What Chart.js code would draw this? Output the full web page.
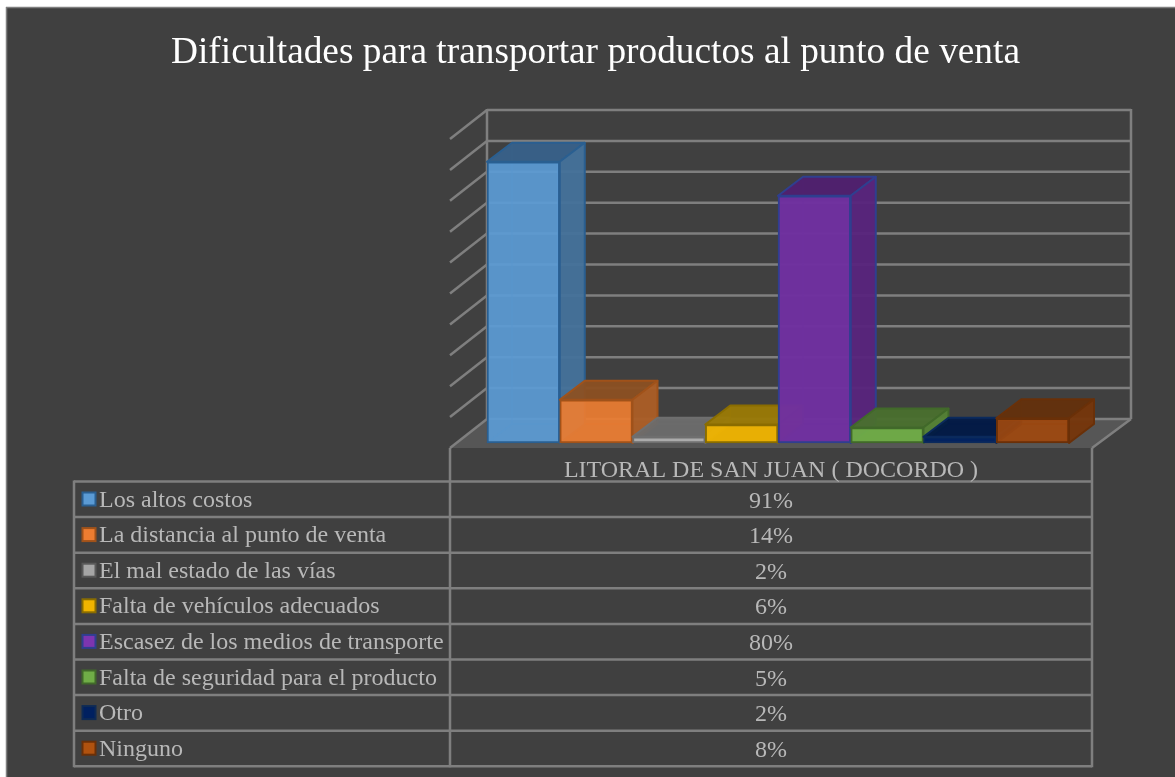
<!DOCTYPE html>
<html lang="es">
<head>
<meta charset="utf-8">
<title>Dificultades para transportar productos al punto de venta</title>
<script src="https://cdn.jsdelivr.net/npm/chart.js@4"></script>
<style>
html,body{margin:0;padding:0;background:#fff;overflow:hidden}
canvas{display:block}
</style>
</head>
<body>
<canvas id="c" width="1175" height="777"></canvas>
<script>
const chartTitle = "Dificultades para transportar productos al punto de venta";
const categories = ["LITORAL DE SAN JUAN ( DOCORDO )"];
const seriesNames = ["Los altos costos","La distancia al punto de venta","El mal estado de las vías","Falta de vehículos adecuados","Escasez de los medios de transporte","Falta de seguridad para el producto","Otro","Ninguno"];
const seriesValues = [91,14,2,6,80,5,2,8];
const gridValues = [0,10,20,30,40,50,60,70,80,90,100];

const frontColors = ["rgba(91,155,213,.92)","rgba(237,125,49,.92)","rgba(175,175,175,.95)","rgba(240,180,0,.95)","rgba(112,48,160,.97)","rgba(112,173,71,.95)","rgba(0,32,96,.95)","rgba(158,72,14,.92)"];
const sideColors  = ["rgba(68,114,155,.95)","rgba(172,94,38,.95)","rgba(120,120,120,.95)","rgba(150,115,0,.95)","rgba(88,36,125,.95)","rgba(84,130,53,.95)","rgba(0,24,72,.95)","rgba(118,54,11,.95)"];
const topColors   = ["rgba(56,97,138,.95)","rgba(140,80,34,.95)","rgba(107,107,107,.95)","rgba(155,122,5,.95)","rgba(80,32,112,.95)","rgba(74,112,46,.95)","rgba(0,24,70,.95)","rgba(100,48,12,.95)"];
const edgeColors  = ["#2a5f91","#a0521a","#6f6f6f","#8a6d00","#2f3f8f","#41692a","#0b2a5c","#6a3008"];
const swatchFill  = ["#5b9bd5","#ed7d31","#a5a5a5","#f0b400","#7d35b0","#70ad47","#002060","#b0520f"];
const swatchEdge  = ["#2a5f91","#a0521a","#595959","#8a6d00","#2f3f8f","#41692a","#0e2a55","#6a3008"];

const BG="#404040", LINE="#7f7f7f", TXT="#b8b8b8", SERIF='"Liberation Serif","Times New Roman",serif';
const BAR_DX=25, BAR_DY=19, WALL_BACK_DY=24, WALL_DX=37, WALL_DY=29, WALL_RIGHT=62, RULE=2.5;

function poly(ctx,pts,fill,stroke,w){
  ctx.beginPath();pts.forEach((p,i)=>i?ctx.lineTo(p[0],p[1]):ctx.moveTo(p[0],p[1]));ctx.closePath();
  if(fill){ctx.fillStyle=fill;ctx.fill();}
  if(stroke){ctx.strokeStyle=stroke;ctx.lineWidth=w||1.5;ctx.lineJoin="round";ctx.stroke();}
}
function seg(ctx,x1,y1,x2,y2,c,w){ctx.beginPath();ctx.moveTo(x1,y1);ctx.lineTo(x2,y2);ctx.strokeStyle=c;ctx.lineWidth=w||2;ctx.stroke();}

const frame3d={
  id:"frame3d",
  beforeDraw(chart){
    const ctx=chart.ctx;
    ctx.save();
    ctx.fillStyle="#fff";ctx.fillRect(0,0,chart.width,chart.height);
    ctx.fillStyle=BG;ctx.fillRect(6,7,chart.width-6,chart.height-7);
    seg(ctx,6,7.5,chart.width,7.5,LINE,1.5);seg(ctx,6.5,7,6.5,chart.height,LINE,1.5);
    ctx.fillStyle="#ffffff";ctx.font="37.33px "+SERIF;ctx.textAlign="center";ctx.textBaseline="alphabetic";
    ctx.fillText(chartTitle,595.5,63);
    ctx.restore();
  },
  beforeDatasetsDraw(chart){
    const ctx=chart.ctx,y=chart.scales.y,x=chart.scales.x;
    const bl=x.left,br=x.right+WALL_RIGHT,by=y.getPixelForValue(0)-WALL_BACK_DY;
    ctx.save();
    poly(ctx,[[bl,by],[br,by],[br-WALL_DX-2,by+WALL_DY],[bl-WALL_DX,by+WALL_DY]],"#565656");
    gridValues.forEach(v=>{
      const py=y.getPixelForValue(v)-WALL_BACK_DY;
      seg(ctx,bl,py,br,py,LINE,RULE);
      seg(ctx,bl,py,bl-WALL_DX,py+WALL_DY,LINE,RULE);
    });
    seg(ctx,br,by,br-WALL_DX-2,by+WALL_DY,LINE,RULE);
    const ty=y.getPixelForValue(gridValues[gridValues.length-1])-WALL_BACK_DY;
    seg(ctx,bl,ty-1,bl,by,LINE,RULE);seg(ctx,br,ty-1,br,by,LINE,RULE);
    ctx.restore();
  },
  // The library paints datasets last-to-first; bars must overlap first-to-last here,
  // so the default pass is skipped and the controllers are drawn in series order below.
  beforeDatasetDraw(){return false;},
  afterDatasetsDraw(chart){
    const ctx=chart.ctx;
    chart.data.datasets.forEach((ds,i)=>{
      const meta=chart.getDatasetMeta(i),bar=meta.data[0];
      const l=bar.x-bar.width/2,r=bar.x+bar.width/2,t=bar.y,b=bar.base;
      ctx.save();
      ctx.globalAlpha=.45;
      seg(ctx,l+BAR_DX,t-BAR_DY,l+BAR_DX,b-BAR_DY,edgeColors[i],1.5);
      seg(ctx,l+BAR_DX,b-BAR_DY,l,b,edgeColors[i],1.5);
      seg(ctx,l+BAR_DX,b-BAR_DY,r+BAR_DX,b-BAR_DY,edgeColors[i],1.5);
      ctx.globalAlpha=1;
      poly(ctx,[[l,t],[r,t],[r+BAR_DX,t-BAR_DY],[l+BAR_DX,t-BAR_DY]],topColors[i],edgeColors[i],2);
      poly(ctx,[[r,t],[r+BAR_DX,t-BAR_DY],[r+BAR_DX,b-BAR_DY],[r,b]],sideColors[i],edgeColors[i],2);
      ctx.restore();
      meta.controller.draw();
    });
  },
  afterDraw(chart){
    const ctx=chart.ctx,xs=chart.scales.x;
    const left=74,mid=450,right=1092,first=481.5,rowH=35.6,floorY=448;
    const n=seriesNames.length,bottom=first+rowH*n;
    ctx.save();
    seg(ctx,mid,floorY,mid,bottom+1,LINE,RULE);
    seg(ctx,right,floorY,right,bottom+1,LINE,RULE);
    seg(ctx,left,first-1,left,bottom+1,LINE,RULE);
    for(let k=0;k<=n;k++){const yy=first+rowH*k;seg(ctx,left,yy,right,yy,LINE,RULE);}
    ctx.font="24px "+SERIF;ctx.textBaseline="alphabetic";ctx.fillStyle=TXT;
    ctx.textAlign="center";
    ctx.fillText(xs.getLabelForValue(0),(mid+right)/2,477);
    seriesNames.forEach((name,k)=>{
      const base=first+rowH*k+25;
      ctx.textAlign="left";ctx.fillStyle=TXT;
      ctx.fillText(name,99,base);
      ctx.textAlign="center";
      ctx.fillText(chart.data.datasets[k].data[0]+"%",(mid+right)/2,base+1);
      const sy=first+rowH*k+11;
      ctx.fillStyle=swatchFill[k];
      ctx.fillRect(82.5,sy,13,13);
      ctx.strokeStyle=swatchEdge[k];ctx.lineWidth=2;ctx.strokeRect(82.5,sy,13,13);
    });
    ctx.restore();
  }
};

new Chart(document.getElementById("c"),{
  type:"bar",
  data:{
    labels:categories,
    datasets:seriesNames.map((name,i)=>({
      label:name,
      data:[seriesValues[i]],
      backgroundColor:frontColors[i],
      borderColor:edgeColors[i],
      borderWidth:2,
      borderSkipped:false,
      categoryPercentage:1,
      barPercentage:1
    }))
  },
  options:{
    responsive:false,
    animation:false,
    layout:{padding:{left:487,right:106,top:134,bottom:334}},
    plugins:{legend:{display:false},tooltip:{enabled:false},title:{display:false}},
    scales:{
      x:{display:false},
      y:{display:false,min:0,max:100}
    }
  },
  plugins:[frame3d]
});
</script>
</body>
</html>
